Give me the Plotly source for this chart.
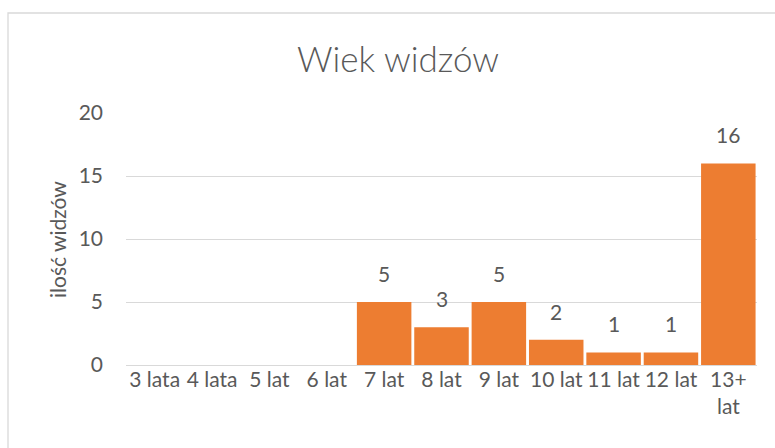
import plotly.graph_objects as go

categories = ["3 lata", "4 lata", "5 lat", "6 lat", "7 lat", "8 lat", "9 lat",
              "10 lat", "11 lat", "12 lat", "13+<br>lat"]
values = [0, 0, 0, 0, 5, 3, 5, 2, 1, 1, 16]
label_text = [str(v) for v in values]
show_label = [v > 0 for v in values]

FONT = "Lato"
GREY = "#595959"
W, H = 775, 448
L, R, T, B = 126, 18, 113, 83
pw, ph = W - L - R, H - T - B

fig = go.Figure()
fig.add_trace(go.Bar(
    x=categories, y=values,
    marker=dict(color="#ED7D31", line=dict(width=0)),
    hoverinfo="x+y",
))

annotations = []
for c, v, t, s in zip(categories, values, label_text, show_label):
    if s:
        annotations.append(dict(x=c, y=v, xref="x", yref="y", text=t,
                                showarrow=False, yanchor="bottom", yshift=14,
                                font=dict(family=FONT, size=21, color=GREY)))

# y-axis title
annotations.append(dict(x=(57 - L) / pw, y=(H - B - 240) / ph, xref="paper", yref="paper",
                        text="ilość widzów", textangle=-90, showarrow=False,
                        xanchor="center", yanchor="middle",
                        font=dict(family=FONT, size=21, color=GREY)))

fig.update_layout(
    width=W, height=H,
    margin=dict(l=L, r=R, t=T, b=B),
    paper_bgcolor="white", plot_bgcolor="white",
    bargap=0.05,
    showlegend=False,
    title=dict(text="Wiek widzów", x=398 / W, xref="container", xanchor="center",
               y=1 - 60 / H, yref="container", yanchor="middle",
               font=dict(family=FONT, size=35, color=GREY, weight=300)),
    xaxis=dict(showgrid=False, showline=False, ticks="", zeroline=False,
               tickfont=dict(family=FONT, size=21, color=GREY), tickangle=0),
    yaxis=dict(range=[0, 20], tickvals=[0, 5, 10, 15, 20], showgrid=True,
               gridcolor="#d9d9d9", gridwidth=1.3, zeroline=True, zerolinecolor="#d9d9d9",
               zerolinewidth=1.3, showline=False, ticks="", ticklabelstandoff=22,
               tickfont=dict(family=FONT, size=21, color=GREY)),
    annotations=annotations,
    shapes=[dict(type="rect", xref="paper", yref="paper",
                 x0=(8 - L) / pw, x1=(W + 20 - L) / pw,
                 y0=(H - B - (H + 20)) / ph, y1=(H - B - 13) / ph,
                 line=dict(color="#d9d9d9", width=1.3), fillcolor="rgba(0,0,0,0)", layer="below")],
    font=dict(family=FONT, color=GREY),
)

fig.write_html("out.html", config={"displayModeBar": False},
               post_script="document.body.style.margin='0';document.body.style.overflow='hidden';")
